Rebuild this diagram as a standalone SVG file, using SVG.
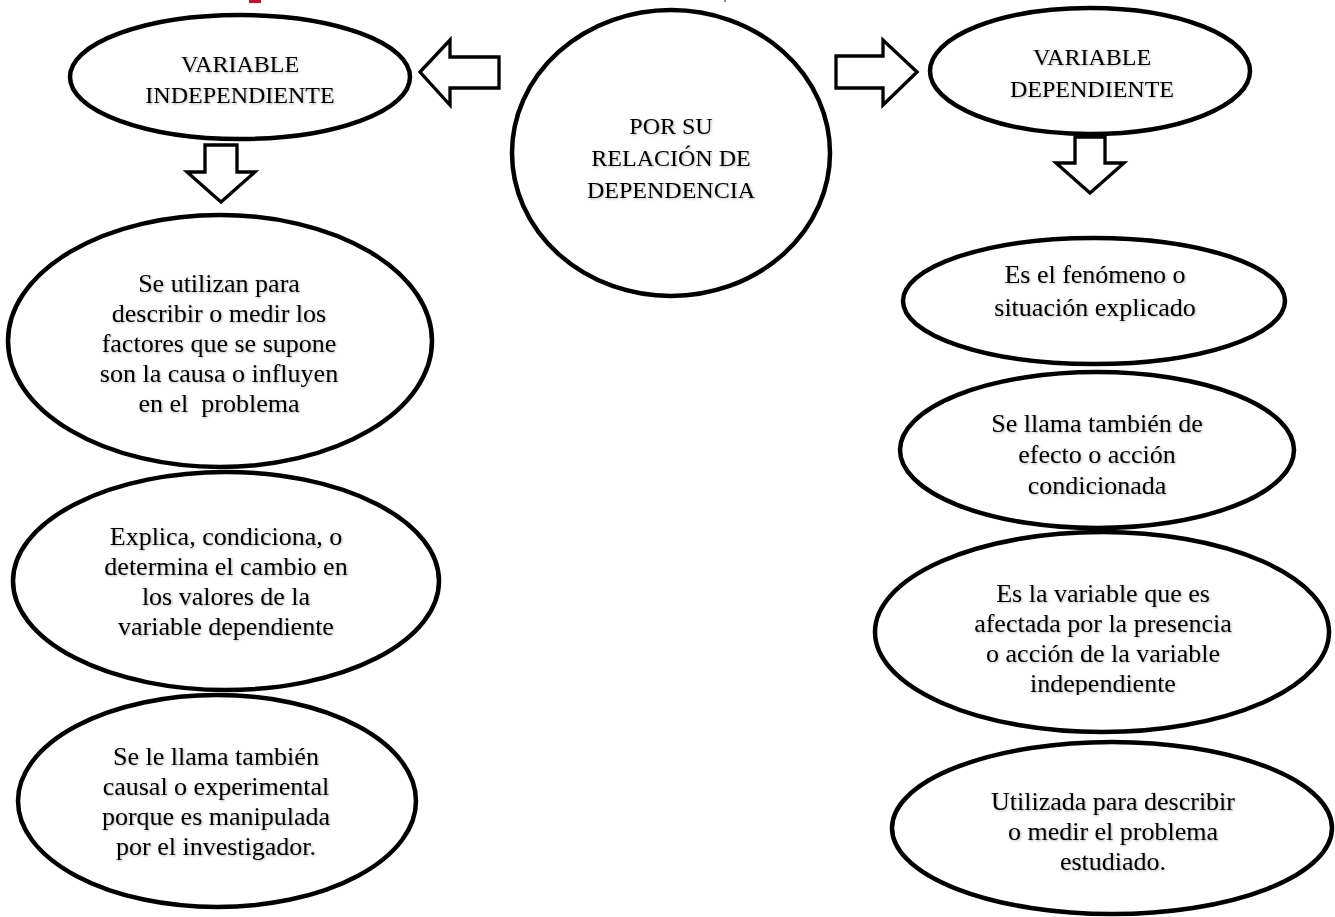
<svg xmlns="http://www.w3.org/2000/svg" width="1335" height="917" viewBox="0 0 1335 917">
<defs>
<style>
.n{fill:#fff;stroke:#000;stroke-width:4.5}
.a{fill:#fff;stroke:#000;stroke-width:3.3;stroke-linejoin:miter}
.t{font-family:"Liberation Serif","Times New Roman",serif;fill:#000;text-anchor:middle;filter:url(#sh)}
.h{font-size:24px}
.b{font-size:26px}
</style>
<filter id="sh" x="-5%" y="-20%" width="110%" height="150%">
<feDropShadow dx="1" dy="1" stdDeviation="0.8" flood-color="#000" flood-opacity="0.3"/>
</filter>
<clipPath id="clipVar"><rect x="860" y="530" width="475" height="165"/></clipPath>
</defs>
<rect width="1335" height="917" fill="#fff"/>
<rect x="249" y="0" width="12" height="3" fill="#c8102e"/>
<rect x="724" y="0" width="2" height="2" fill="#888"/>

<g id="connectors">
<polygon class="a" points="420,72 450,40 450,57 499,57 499,88 450,88 450,105"/>
<polygon class="a" points="917,72 883,40 883,56 836,56 836,88 883,88 883,105"/>
<polygon class="a" points="205,145 237,145 237,172 255,172 221,202 187,172 205,172"/>
<polygon class="a" points="1075,137 1105,137 1105,163 1124,163 1090,193 1056,163 1075,163"/>
</g>

<g id="center">
<ellipse class="n" cx="671" cy="153" rx="159" ry="143"/>
<text class="t h" x="671" y="134">POR SU</text>
<text class="t h" x="671" y="166">RELACIÓN DE</text>
<text class="t h" x="671" y="198">DEPENDENCIA</text>
</g>

<g id="var-independiente">
<ellipse class="n" cx="240" cy="77" rx="170" ry="62"/>
<text class="t h" x="240" y="72">VARIABLE</text>
<text class="t h" x="240" y="103">INDEPENDIENTE</text>
</g>

<g id="var-dependiente">
<ellipse class="n" cx="1090" cy="71" rx="160" ry="63"/>
<text class="t h" x="1092" y="65">VARIABLE</text>
<text class="t h" x="1092" y="97">DEPENDIENTE</text>
</g>

<g id="ind-1">
<ellipse class="n" cx="220" cy="341" rx="212" ry="126"/>
<text class="t b" x="219" y="292">Se utilizan para</text>
<text class="t b" x="219" y="322">describir o medir los</text>
<text class="t b" x="219" y="352">factores que se supone</text>
<text class="t b" x="219" y="382">son la causa o influyen</text>
<text class="t b" x="219" y="412" xml:space="preserve">en el  problema</text>
</g>

<g id="ind-2">
<ellipse class="n" cx="226" cy="581" rx="213" ry="109"/>
<text class="t b" x="226" y="545">Explica, condiciona, o</text>
<text class="t b" x="226" y="575">determina el cambio en</text>
<text class="t b" x="226" y="605">los valores de la</text>
<text class="t b" x="226" y="635">variable dependiente</text>
</g>

<g id="ind-3">
<ellipse class="n" cx="217" cy="801" rx="199" ry="106"/>
<text class="t b" x="216" y="765">Se le llama también</text>
<text class="t b" x="216" y="795">causal o experimental</text>
<text class="t b" x="216" y="825">porque es manipulada</text>
<text class="t b" x="216" y="855">por el investigador.</text>
</g>

<g id="dep-1">
<ellipse class="n" cx="1094" cy="301" rx="191" ry="63"/>
<text class="t b" x="1095" y="283">Es el fenómeno o</text>
<text class="t b" x="1095" y="316">situación explicado</text>
</g>

<g id="dep-2">
<ellipse class="n" cx="1097" cy="450" rx="197" ry="78"/>
<text class="t b" x="1097" y="432">Se llama también de</text>
<text class="t b" x="1097" y="463">efecto o acción</text>
<text class="t b" x="1097" y="494">condicionada</text>
</g>

<g id="dep-3">
<ellipse class="n" cx="1102" cy="632" rx="227" ry="100"/>
<g clip-path="url(#clipVar)">
<text class="t b" x="1103" y="602">Es la variable que es</text>
<text class="t b" x="1103" y="632">afectada por la presencia</text>
<text class="t b" x="1103" y="662">o acción de la variable</text>
<text class="t b" x="1103" y="692">independiente</text>
</g>
</g>

<g id="dep-4">
<ellipse class="n" cx="1112" cy="828" rx="220" ry="86"/>
<text class="t b" x="1113" y="810">Utilizada para describir</text>
<text class="t b" x="1113" y="840">o medir el problema</text>
<text class="t b" x="1113" y="870">estudiado.</text>
</g>
</svg>
